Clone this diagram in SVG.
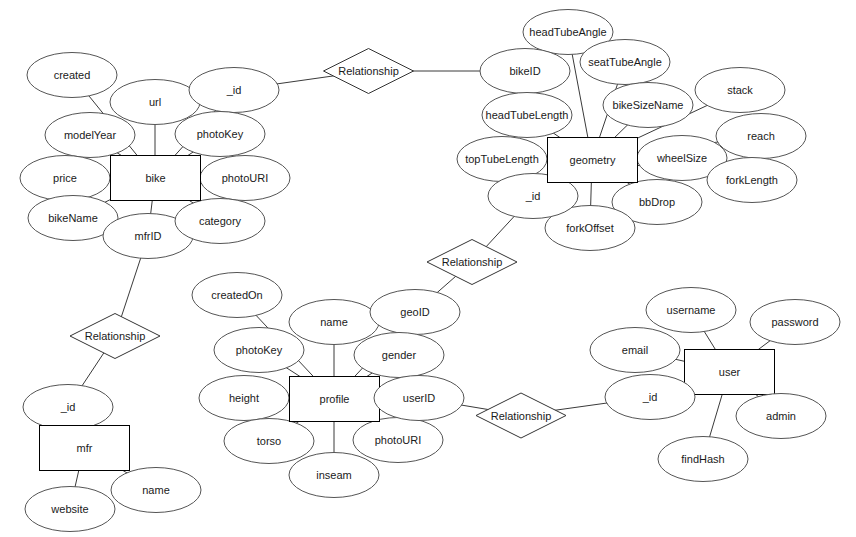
<svg xmlns="http://www.w3.org/2000/svg" width="856" height="537" viewBox="0 0 856 537">
<style>
.bg{fill:#ffffff}
.attr{fill:#ffffff;stroke:#555555;stroke-width:1}
.ent{fill:#ffffff;stroke:#000000;stroke-width:1}
.rel{fill:#ffffff;stroke:#333333;stroke-width:1}
.t{font-family:"Liberation Sans",Arial,Helvetica,sans-serif;font-size:11px;fill:#1a1a1a;text-anchor:middle;dominant-baseline:central}
#connectors line{stroke:#3a3a3a;stroke-width:1;fill:none}
</style>
<rect class="bg" x="0" y="0" width="856" height="537"/>
<g id="connectors">
<line x1="72" y1="75" x2="155" y2="177.5"/>
<line x1="90" y1="135" x2="155" y2="177.5"/>
<line x1="155" y1="102" x2="155" y2="177.5"/>
<line x1="234" y1="90" x2="155" y2="177.5"/>
<line x1="220" y1="134" x2="155" y2="177.5"/>
<line x1="65" y1="178" x2="155" y2="177.5"/>
<line x1="245" y1="178" x2="155" y2="177.5"/>
<line x1="73" y1="218" x2="155" y2="177.5"/>
<line x1="148" y1="236" x2="155" y2="177.5"/>
<line x1="220" y1="221" x2="155" y2="177.5"/>
<line x1="234" y1="90" x2="368" y2="71"/>
<line x1="368" y1="71" x2="525" y2="71"/>
<line x1="568" y1="32" x2="592" y2="159.5"/>
<line x1="625" y1="62" x2="592" y2="159.5"/>
<line x1="648" y1="105" x2="592" y2="159.5"/>
<line x1="740" y1="90" x2="592" y2="159.5"/>
<line x1="761" y1="136" x2="592" y2="159.5"/>
<line x1="682" y1="158" x2="592" y2="159.5"/>
<line x1="752" y1="180" x2="592" y2="159.5"/>
<line x1="657" y1="202" x2="592" y2="159.5"/>
<line x1="590" y1="228" x2="592" y2="159.5"/>
<line x1="533" y1="196" x2="592" y2="159.5"/>
<line x1="502" y1="159" x2="592" y2="159.5"/>
<line x1="527" y1="115" x2="592" y2="159.5"/>
<line x1="533" y1="196" x2="472" y2="262"/>
<line x1="472" y1="262" x2="415" y2="312"/>
<line x1="237" y1="295" x2="334" y2="398.5"/>
<line x1="334" y1="322" x2="334" y2="398.5"/>
<line x1="259" y1="350" x2="334" y2="398.5"/>
<line x1="399" y1="355" x2="334" y2="398.5"/>
<line x1="415" y1="312" x2="334" y2="398.5"/>
<line x1="244" y1="398" x2="334" y2="398.5"/>
<line x1="419" y1="398" x2="334" y2="398.5"/>
<line x1="269" y1="441" x2="334" y2="398.5"/>
<line x1="398" y1="440" x2="334" y2="398.5"/>
<line x1="334" y1="475" x2="334" y2="398.5"/>
<line x1="419" y1="398" x2="521" y2="415"/>
<line x1="521" y1="415" x2="650" y2="397"/>
<line x1="691" y1="310" x2="729" y2="371.5"/>
<line x1="795" y1="322" x2="729" y2="371.5"/>
<line x1="635" y1="350" x2="729" y2="371.5"/>
<line x1="650" y1="397" x2="729" y2="371.5"/>
<line x1="781" y1="416" x2="729" y2="371.5"/>
<line x1="703" y1="459" x2="729" y2="371.5"/>
<line x1="148" y1="236" x2="115" y2="336"/>
<line x1="115" y1="336" x2="68" y2="407"/>
<line x1="68" y1="407" x2="84" y2="447.5"/>
<line x1="70" y1="509" x2="84" y2="447.5"/>
<line x1="156" y1="490" x2="84" y2="447.5"/>
</g>
<g id="bike-created"><ellipse class="attr" cx="72" cy="75" rx="45" ry="22.5"/><text class="t" x="72" y="75">created</text></g>
<g id="bike-modelYear"><ellipse class="attr" cx="90" cy="135" rx="45" ry="22.5"/><text class="t" x="90" y="135">modelYear</text></g>
<g id="bike-url"><ellipse class="attr" cx="155" cy="102" rx="45" ry="22.5"/><text class="t" x="155" y="102">url</text></g>
<g id="bike-id"><ellipse class="attr" cx="234" cy="90" rx="45" ry="22.5"/><text class="t" x="234" y="90">_id</text></g>
<g id="bike-photoKey"><ellipse class="attr" cx="220" cy="134" rx="45" ry="22.5"/><text class="t" x="220" y="134">photoKey</text></g>
<g id="bike-price"><ellipse class="attr" cx="65" cy="178" rx="45" ry="22.5"/><text class="t" x="65" y="178">price</text></g>
<g id="bike-photoURI"><ellipse class="attr" cx="245" cy="178" rx="45" ry="22.5"/><text class="t" x="245" y="178">photoURI</text></g>
<g id="bike-bikeName"><ellipse class="attr" cx="73" cy="218" rx="45" ry="22.5"/><text class="t" x="73" y="218">bikeName</text></g>
<g id="bike-mfrID"><ellipse class="attr" cx="148" cy="236" rx="45" ry="22.5"/><text class="t" x="148" y="236">mfrID</text></g>
<g id="bike-category"><ellipse class="attr" cx="220" cy="221" rx="45" ry="22.5"/><text class="t" x="220" y="221">category</text></g>
<g id="bike"><rect class="ent" x="110.5" y="155.5" width="90" height="45"/><text class="t" x="155.5" y="178">bike</text></g>
<g id="rel-bike-geometry"><polygon class="rel" points="323.5,71 368.5,48.5 413.5,71 368.5,93.5"/><text class="t" x="368.5" y="71">Relationship</text></g>
<g id="geo-headTubeAngle"><ellipse class="attr" cx="568" cy="32" rx="45" ry="22.5"/><text class="t" x="568" y="32">headTubeAngle</text></g>
<g id="geo-seatTubeAngle"><ellipse class="attr" cx="625" cy="62" rx="45" ry="22.5"/><text class="t" x="625" y="62">seatTubeAngle</text></g>
<g id="geo-bikeID"><ellipse class="attr" cx="525" cy="71" rx="45" ry="22.5"/><text class="t" x="525" y="71">bikeID</text></g>
<g id="geo-headTubeLength"><ellipse class="attr" cx="527" cy="115" rx="45" ry="22.5"/><text class="t" x="527" y="115">headTubeLength</text></g>
<g id="geo-bikeSizeName"><ellipse class="attr" cx="648" cy="105" rx="45" ry="22.5"/><text class="t" x="648" y="105">bikeSizeName</text></g>
<g id="geo-stack"><ellipse class="attr" cx="740" cy="90" rx="45" ry="22.5"/><text class="t" x="740" y="90">stack</text></g>
<g id="geo-reach"><ellipse class="attr" cx="761" cy="136" rx="45" ry="22.5"/><text class="t" x="761" y="136">reach</text></g>
<g id="geo-wheelSize"><ellipse class="attr" cx="682" cy="158" rx="45" ry="22.5"/><text class="t" x="682" y="158">wheelSize</text></g>
<g id="geo-forkLength"><ellipse class="attr" cx="752" cy="180" rx="45" ry="22.5"/><text class="t" x="752" y="180">forkLength</text></g>
<g id="geo-topTubeLength"><ellipse class="attr" cx="502" cy="159" rx="45" ry="22.5"/><text class="t" x="502" y="159">topTubeLength</text></g>
<g id="geo-bbDrop"><ellipse class="attr" cx="657" cy="202" rx="45" ry="22.5"/><text class="t" x="657" y="202">bbDrop</text></g>
<g id="geo-forkOffset"><ellipse class="attr" cx="590" cy="228" rx="45" ry="22.5"/><text class="t" x="590" y="228">forkOffset</text></g>
<g id="geo-id"><ellipse class="attr" cx="533" cy="196" rx="45" ry="22.5"/><text class="t" x="533" y="196">_id</text></g>
<g id="geometry"><rect class="ent" x="547.5" y="137.5" width="90" height="45"/><text class="t" x="592.5" y="160">geometry</text></g>
<g id="rel-geometry-profile"><polygon class="rel" points="427,262 472,239.5 517,262 472,284.5"/><text class="t" x="472" y="262">Relationship</text></g>
<g id="profile-createdOn"><ellipse class="attr" cx="237" cy="295" rx="45" ry="22.5"/><text class="t" x="237" y="295">createdOn</text></g>
<g id="profile-name"><ellipse class="attr" cx="334" cy="322" rx="45" ry="22.5"/><text class="t" x="334" y="322">name</text></g>
<g id="profile-geoID"><ellipse class="attr" cx="415" cy="312" rx="45" ry="22.5"/><text class="t" x="415" y="312">geoID</text></g>
<g id="profile-photoKey"><ellipse class="attr" cx="259" cy="350" rx="45" ry="22.5"/><text class="t" x="259" y="350">photoKey</text></g>
<g id="profile-gender"><ellipse class="attr" cx="399" cy="355" rx="45" ry="22.5"/><text class="t" x="399" y="355">gender</text></g>
<g id="profile-height"><ellipse class="attr" cx="244" cy="398" rx="45" ry="22.5"/><text class="t" x="244" y="398">height</text></g>
<g id="profile-torso"><ellipse class="attr" cx="269" cy="441" rx="45" ry="22.5"/><text class="t" x="269" y="441">torso</text></g>
<g id="profile-photoURI"><ellipse class="attr" cx="398" cy="440" rx="45" ry="22.5"/><text class="t" x="398" y="440">photoURI</text></g>
<g id="profile-inseam"><ellipse class="attr" cx="334" cy="475" rx="45" ry="22.5"/><text class="t" x="334" y="475">inseam</text></g>
<g id="profile"><rect class="ent" x="289.5" y="376.5" width="90" height="45"/><text class="t" x="334.5" y="399">profile</text></g>
<g id="profile-userID"><ellipse class="attr" cx="419" cy="398" rx="45" ry="22.5"/><text class="t" x="419" y="398">userID</text></g>
<g id="rel-profile-user"><polygon class="rel" points="476,415.5 521,393 566,415.5 521,438"/><text class="t" x="521" y="415.5">Relationship</text></g>
<g id="user-username"><ellipse class="attr" cx="691" cy="310" rx="45" ry="22.5"/><text class="t" x="691" y="310">username</text></g>
<g id="user-password"><ellipse class="attr" cx="795" cy="322" rx="45" ry="22.5"/><text class="t" x="795" y="322">password</text></g>
<g id="user-email"><ellipse class="attr" cx="635" cy="350" rx="45" ry="22.5"/><text class="t" x="635" y="350">email</text></g>
<g id="user"><rect class="ent" x="684.5" y="349.5" width="90" height="45"/><text class="t" x="729.5" y="372">user</text></g>
<g id="user-id"><ellipse class="attr" cx="650" cy="397" rx="45" ry="22.5"/><text class="t" x="650" y="397">_id</text></g>
<g id="user-admin"><ellipse class="attr" cx="781" cy="416" rx="45" ry="22.5"/><text class="t" x="781" y="416">admin</text></g>
<g id="user-findHash"><ellipse class="attr" cx="703" cy="459" rx="45" ry="22.5"/><text class="t" x="703" y="459">findHash</text></g>
<g id="rel-bike-mfr"><polygon class="rel" points="70,336 115,313.5 160,336 115,358.5"/><text class="t" x="115" y="336">Relationship</text></g>
<g id="mfr-id"><ellipse class="attr" cx="68" cy="407" rx="45" ry="22.5"/><text class="t" x="68" y="407">_id</text></g>
<g id="mfr"><rect class="ent" x="39.5" y="425.5" width="90" height="45"/><text class="t" x="84.5" y="448">mfr</text></g>
<g id="mfr-website"><ellipse class="attr" cx="70" cy="509" rx="45" ry="22.5"/><text class="t" x="70" y="509">website</text></g>
<g id="mfr-name"><ellipse class="attr" cx="156" cy="490" rx="45" ry="22.5"/><text class="t" x="156" y="490">name</text></g>
</svg>
